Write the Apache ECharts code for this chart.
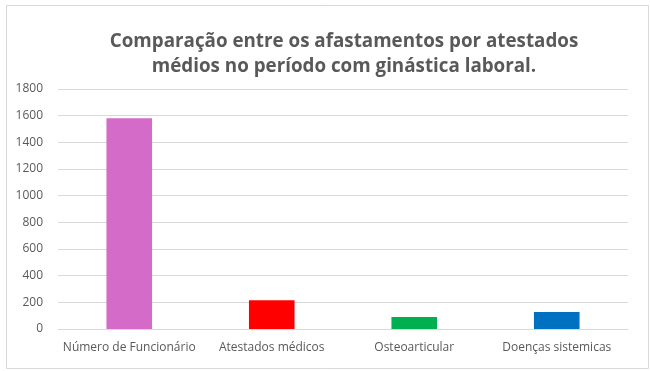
<!DOCTYPE html>
<html><head><meta charset="utf-8">
<script src="https://cdn.jsdelivr.net/npm/echarts@6/dist/echarts.min.js"></script>
<style>html,body{margin:0;padding:0;background:#fff}#c{width:650px;height:371px}</style>
</head><body><div id="c"></div>
<script>
const categories = ['Número de Funcionário', 'Atestados médicos', 'Osteoarticular', 'Doenças sistemicas'];
const values = [1580, 215, 90, 127];
const colors = ['#D56BC8', '#FF0000', '#00B050', '#0070C0'];
const yTicks = { min: 0, max: 1800, interval: 200 };

const chart = echarts.init(document.getElementById('c'), null, { renderer: 'canvas' });
chart.setOption({
  animation: false,
  backgroundColor: '#fff',
  graphic: [{
    type: 'rect', left: 4, top: 3, shape: { width: 642, height: 363 },
    style: { fill: 'none', stroke: '#d9d9d9', lineWidth: 1 }, silent: true
  }],
  title: {
    text: 'Comparação entre os afastamentos por atestados\nmédios no período com ginástica laboral.',
    left: 339, top: 24, textAlign: 'center',
    textStyle: { fontFamily: 'Open Sans', fontWeight: 'bold', fontSize: 18.8, color: '#595959', lineHeight: 25 }
  },
  grid: { left: 58, right: 22, top: 89, bottom: 42 },
  xAxis: {
    type: 'category', data: categories,
    axisLine: { lineStyle: { color: '#d9d9d9' } },
    axisTick: { show: false },
    axisLabel: { color: '#595959', fontSize: 12, fontFamily: 'Open Sans', margin: 13, interval: 0 }
  },
  yAxis: {
    type: 'value', min: yTicks.min, max: yTicks.max, interval: yTicks.interval,
    axisLine: { show: false }, axisTick: { show: false },
    splitLine: { lineStyle: { color: '#d9d9d9' } },
    axisLabel: { color: '#595959', fontSize: 12, fontFamily: 'Open Sans', margin: 15, formatter: v => String(v) }
  },
  series: [{
    type: 'bar', barWidth: '32%',
    data: values.map((v, i) => ({ value: v, itemStyle: { color: colors[i] } }))
  }]
});
</script></body></html>
